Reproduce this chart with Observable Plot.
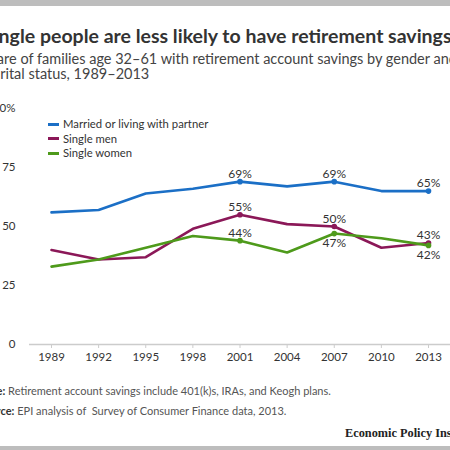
<!DOCTYPE html>
<html>
<head>
<meta charset="utf-8">
<script src="https://cdn.jsdelivr.net/npm/d3@7"></script>
<script src="https://cdn.jsdelivr.net/npm/@observablehq/plot@0.6"></script>
<style>
  body { margin: 0; background: #fff; }
  #page { position: relative; width: 450px; height: 450px; overflow: hidden; background: #fff; font-family: Lato, "Open Sans", sans-serif; color: #333; }
  .bar { position: absolute; left: 0; width: 450px; background: #bdbdbd; }
  #title { position: absolute; left: -17px; top: 25px; white-space: nowrap; font-weight: 700; font-size: 19.5px; line-height: 22px; color: #333; }
  #subtitle { position: absolute; left: -19px; top: 51px; white-space: nowrap; font-size: 14.5px; line-height: 15px; color: #444; }
  #chart { position: absolute; left: 0; top: 95px; }
  #legend { position: absolute; left: 48px; top: 117px; font-size: 11.3px; color: #333; }
  #legend div { height: 14.5px; line-height: 14.5px; white-space: nowrap; }
  #legend span.sw { display: inline-block; width: 11px; height: 3px; vertical-align: middle; margin-right: 4px; position: relative; top: -1px; }
  .note { position: absolute; left: -22px; white-space: nowrap; font-size: 11px; color: #555; }
  .note b { color: #333; }
  #epi { position: absolute; left: 345px; top: 426px; white-space: nowrap; font-family: "Liberation Serif", "DejaVu Serif", serif; font-weight: 700; font-size: 12.3px; color: #222; }
</style>
</head>
<body>
<div id="page">
  <div class="bar" style="top:0;height:6px"></div>
  <div id="title">Single people are less likely to have retirement savings</div>
  <div id="subtitle">Share of families age 32–61 with retirement account savings by gender and<br>marital status, 1989–2013</div>
  <div id="chart"></div>
  <div id="legend"></div>
  <div class="note" style="top:384px"><b>Note:</b> Retirement account savings include 401(k)s, IRAs, and Keogh plans.</div>
  <div class="note" style="top:404px"><b>Source:</b> EPI analysis of &nbsp;Survey of Consumer Finance data, 2013.</div>
  <div id="epi">Economic Policy Institute</div>
  <div class="bar" style="top:446px;height:4px"></div>
</div>
<script>
const years = [1989, 1992, 1995, 1998, 2001, 2004, 2007, 2010, 2013];
const married = [56, 57, 64, 66, 69, 67, 69, 65, 65];
const singleMen = [40, 36, 37, 49, 55, 51, 50, 41, 43];
const singleWomen = [33, 36, 41, 46, 44, 39, 47, 45, 42];
const seriesNames = ["Married or living with partner", "Single men", "Single women"];
const seriesColors = ["#1b6fc6", "#8b1858", "#4e9a1b"];
const labeledYears = [2001, 2007, 2013];
const labelBelow = { "Single women": [2007, 2013] };
const yTicks = [0, 25, 50, 75, 100];

const seriesValues = [married, singleMen, singleWomen];
const data = [];
seriesNames.forEach((name, i) => {
  years.forEach((yr, j) => data.push({ series: name, year: yr, value: seriesValues[i][j] }));
});
const labeled = data.filter(d => labeledYears.includes(d.year));
const above = labeled.filter(d => !(labelBelow[d.series] || []).includes(d.year));
const below = labeled.filter(d => (labelBelow[d.series] || []).includes(d.year));

const color = { domain: seriesNames, range: seriesColors };

const chart = Plot.plot({
  width: 450,
  height: 275,
  marginLeft: 29,
  marginRight: 0,
  marginTop: 13,
  marginBottom: 26,
  style: { fontFamily: "Lato, 'Open Sans', sans-serif", fontSize: "11.5px", color: "#333", background: "transparent" },
  x: { domain: [1987.6, 2014.4], label: null },
  y: { domain: [0, 100], label: null },
  color,
  marks: [
    Plot.axisX({ ticks: years, tickFormat: d => String(d), tickSize: 4, tickPadding: 4, stroke: "#ccc", color: "#333", fontSize: 11.5 }),
    Plot.axisY({ ticks: yTicks, tickFormat: d => d === 100 ? "100%" : String(d), tickSize: 0, tickPadding: 14, fontSize: 11.5 }),
    Plot.ruleY([0], { stroke: "#ccc", strokeWidth: 1.5 }),
    Plot.line(data, { x: "year", y: "value", z: "series", stroke: "series", strokeWidth: 2.6, curve: "linear" }),
    Plot.dot(labeled, { x: "year", y: "value", fill: "series", r: 2.8 }),
    Plot.text(above, { x: "year", y: "value", text: d => d.value + "%", lineAnchor: "bottom", dy: -4, fill: "#333", fontSize: 12 }),
    Plot.text(below, { x: "year", y: "value", text: d => d.value + "%", lineAnchor: "top", dy: 5, fill: "#333", fontSize: 12 })
  ]
});
document.getElementById("chart").appendChild(chart);

const legend = document.getElementById("legend");
seriesNames.forEach((name, i) => {
  const row = document.createElement("div");
  const sw = document.createElement("span");
  sw.className = "sw";
  sw.style.background = seriesColors[i];
  row.appendChild(sw);
  row.appendChild(document.createTextNode(name));
  legend.appendChild(row);
});
</script>
</body>
</html>
